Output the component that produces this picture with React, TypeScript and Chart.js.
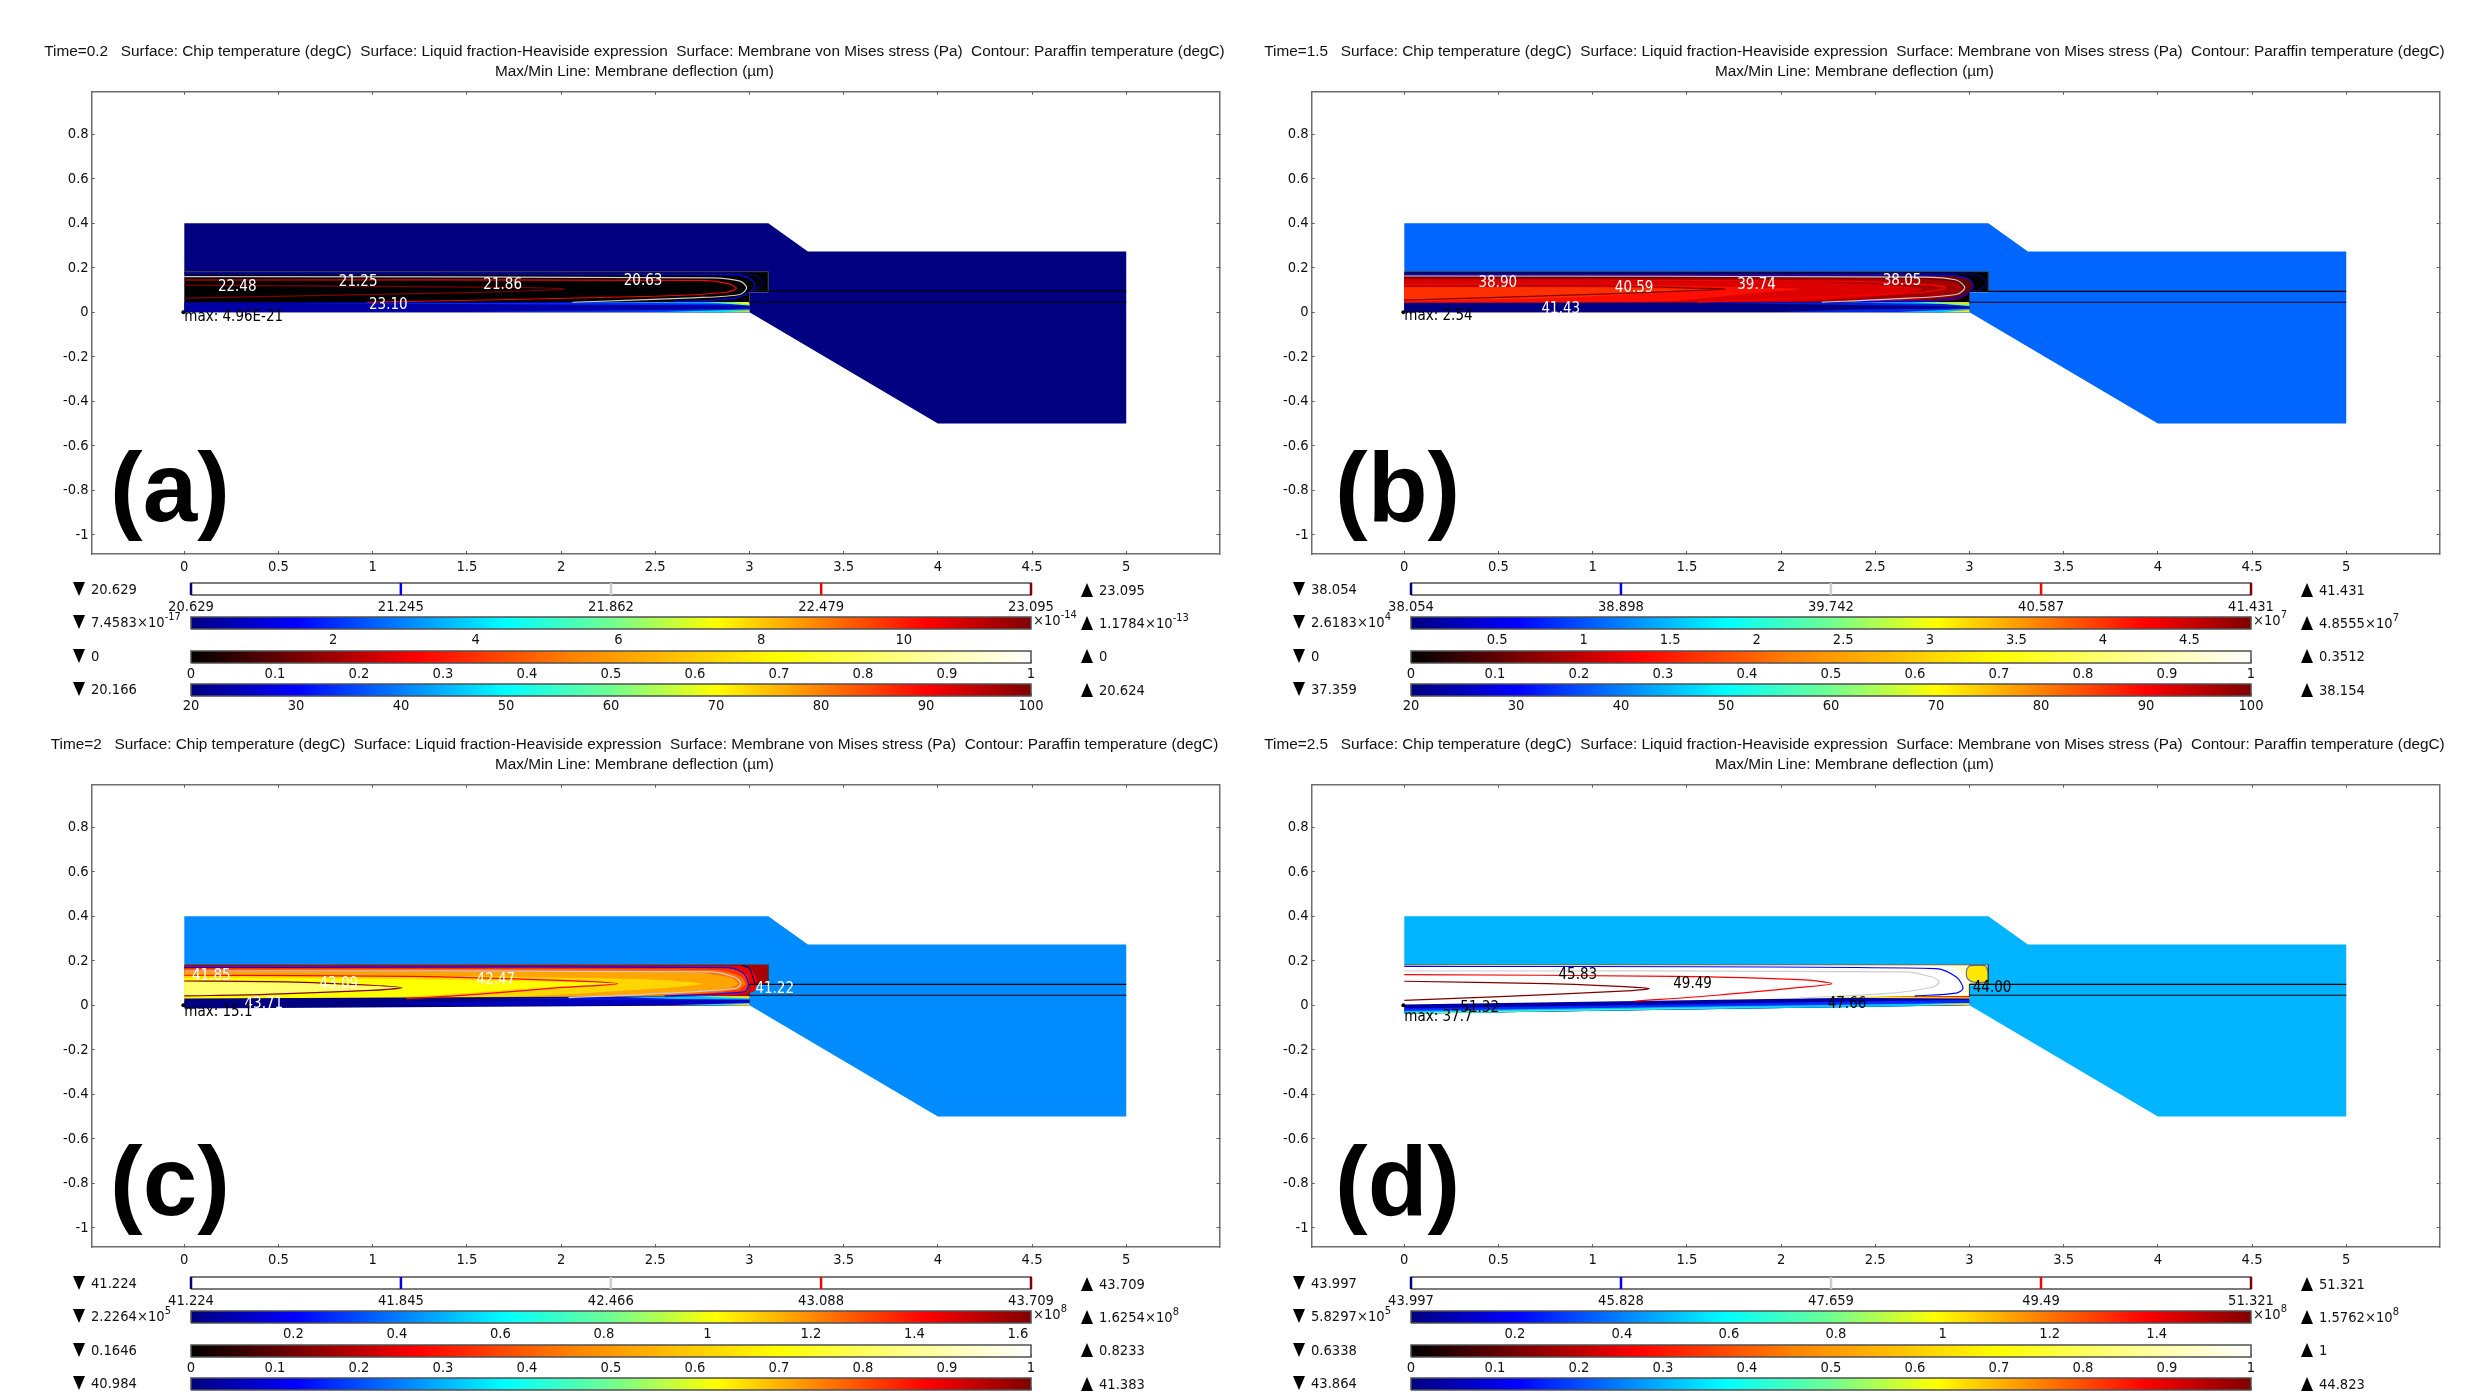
import React, { useEffect, useRef } from "react";
import { Chart, registerables } from "chart.js";

Chart.register(...registerables);

const FONT = '"DejaVu Sans Condensed", "Liberation Sans", sans-serif';
const TITLE_FONT = '"Liberation Sans", sans-serif';
const TICK_SIZE = 14.6;
const TITLE_SIZE = 15.34;

type Pt = [number, number];

// ---------- axis ticks ----------
const xTickValues = [0, 0.5, 1, 1.5, 2, 2.5, 3, 3.5, 4, 4.5, 5];
const yTickValues = [0.8, 0.6, 0.4, 0.2, 0, -0.2, -0.4, -0.6, -0.8, -1];
const liquidTicks = [0, 0.1, 0.2, 0.3, 0.4, 0.5, 0.6, 0.7, 0.8, 0.9, 1];
const chipTicks = [20, 30, 40, 50, 60, 70, 80, 90, 100];

// ---------- geometry ----------
const bodyOutline: Pt[] = [[0, 0.4], [3.1, 0.4], [3.31, 0.273], [5, 0.273], [5, -0.5], [4, -0.5], [3, 0], [3, 0.09], [3.1, 0.09], [3.1, 0.182], [0, 0.182]];
const paraffinOutline: Pt[] = [[0, 0.182], [3.1, 0.182], [3.1, 0.095], [3, 0.095], [3, 0], [0, 0]];
const paraffinEdge: Pt[] = [[0, 0.182], [3.1, 0.182], [3.1, 0.095], [3, 0.095], [3, 0.04]];
const upperLine: Pt[] = [[3, 0.094], [5, 0.094]];
const lowerLine: Pt[] = [[3, 0.045], [5, 0.045]];
const maxPoint: Pt[] = [[-0.005, 0]];

// ---------- contour lines, paraffin temperature ----------
const aNavy: Pt[] = [[0, 0.178], [2.9, 0.176], [3.03, 0.165], [3.07, 0.13], [3.03, 0.1], [3.0, 0.095]];
const aBlue: Pt[] = [[0, 0.172], [2.85, 0.17], [2.98, 0.16], [3.03, 0.125], [3.0, 0.09], [2.9, 0.06], [2.6, 0.048]];
const aGray: Pt[] = [[0, 0.16], [2.8, 0.155], [2.95, 0.14], [2.985, 0.11], [2.95, 0.08], [2.7, 0.065], [2.06, 0.045]];
const aRed: Pt[] = [[0, 0.145], [2.75, 0.143], [2.88, 0.13], [2.93, 0.108], [2.88, 0.09], [2.5, 0.072], [0.97, 0.045]];
const aDark: Pt[] = [[0, 0.122], [1.7, 0.112], [1.95, 0.108], [2.02, 0.105], [1.95, 0.1], [1.5, 0.088], [0, 0.064]];

const bNavy: Pt[] = [[0, 0.176], [2.95, 0.174], [3.05, 0.165], [3.09, 0.13], [3.05, 0.1], [3.0, 0.095]];
const bBlue: Pt[] = [[0, 0.17], [2.85, 0.168], [2.98, 0.155], [3.02, 0.12], [2.98, 0.08], [2.85, 0.055], [2.4, 0.048]];
const bGray: Pt[] = [[0, 0.163], [2.75, 0.158], [2.93, 0.145], [2.975, 0.11], [2.93, 0.08], [2.6, 0.06], [2.216, 0.045]];
const bRed: Pt[] = [[0, 0.145], [2.3, 0.14], [2.75, 0.125], [2.875, 0.11], [2.75, 0.09], [2.2, 0.068], [1.557, 0.045]];
const bDark: Pt[] = [[0, 0.118], [1.1, 0.118], [1.55, 0.108], [1.706, 0.105], [1.55, 0.098], [1, 0.08], [0, 0.055]];

const cNavy: Pt[] = [[2.96, 0.18], [3.0, 0.165], [3.03, 0.097]];
const cBlue: Pt[] = [[0, 0.17], [2.89, 0.169], [2.97, 0.142], [2.995, 0.09], [2.97, 0.06], [2.55, 0.042]];
const cGray: Pt[] = [[0, 0.154], [2.78, 0.15], [2.92, 0.127], [2.955, 0.097], [2.92, 0.075], [2.44, 0.049], [2.04, 0.034]];
const cRed: Pt[] = [[0, 0.135], [1.21, 0.13], [1.99, 0.112], [2.3, 0.097], [1.99, 0.079], [1.55, 0.049], [1.18, 0.03]];
const cDark: Pt[] = [[0, 0.109], [0.54, 0.105], [0.99, 0.09], [1.155, 0.079], [0.99, 0.067], [0.43, 0.049], [0, 0.042]];

const dNavy: Pt[] = [[3.0, 0.178], [3.08, 0.178], [3.098, 0.15], [3.095, 0.11], [3.03, 0.103], [2.99, 0.12], [2.985, 0.16], [3.0, 0.178]];
const dBlue: Pt[] = [[0, 0.175], [2.82, 0.165], [2.93, 0.127], [2.966, 0.075], [2.93, 0.055], [2.71, 0.042]];
const dGray: Pt[] = [[0, 0.154], [2.66, 0.15], [2.8, 0.127], [2.84, 0.105], [2.8, 0.08], [2.55, 0.052], [2.1, 0.033]];
const dRed: Pt[] = [[0, 0.138], [1.43, 0.13], [2.1, 0.115], [2.27, 0.097], [2.1, 0.08], [1.66, 0.045], [1.22, 0.018]];
const dDark: Pt[] = [[0, 0.108], [0.76, 0.097], [1.21, 0.082], [1.3, 0.075], [1.21, 0.066], [0.54, 0.04], [0, 0.022]];

// ---------- liquid-fraction colour regions ----------
const bZones: Pt[][] = [
  [[0, 0.168], [2.85, 0.166], [3.0, 0.15], [3.02, 0.11], [2.95, 0.06], [2.7, 0.045], [0, 0.04]],
  [[0, 0.155], [2.75, 0.15], [2.93, 0.135], [2.96, 0.105], [2.9, 0.07], [2.5, 0.045], [0, 0.04]],
  [[0, 0.14], [2.2, 0.135], [2.6, 0.12], [2.75, 0.105], [2.6, 0.08], [2.1, 0.05], [0, 0.04]],
  [[0, 0.125], [1.2, 0.122], [1.9, 0.11], [2.1, 0.105], [1.9, 0.09], [1.4, 0.05], [0, 0.04]],
  [[0, 0.113], [0.9, 0.112], [1.5, 0.105], [1.7, 0.103], [1.4, 0.09], [0.8, 0.065], [0, 0.05]],
];
const cZones: Pt[][] = [
  [[0, 0.177], [2.95, 0.176], [3.02, 0.15], [3.04, 0.1], [3.02, 0.06], [2.8, 0.04], [0, 0.02]],
  [[0, 0.17], [2.88, 0.168], [2.98, 0.14], [3.0, 0.09], [2.97, 0.058], [2.6, 0.04], [0, 0.02]],
  [[0, 0.162], [2.82, 0.158], [2.95, 0.13], [2.98, 0.097], [2.94, 0.07], [2.5, 0.04], [0, 0.02]],
  [[0, 0.15], [2.7, 0.147], [2.9, 0.125], [2.94, 0.097], [2.88, 0.075], [2.3, 0.04], [0, 0.02]],
  [[0, 0.137], [1.5, 0.13], [2.5, 0.115], [2.75, 0.097], [2.5, 0.075], [1.8, 0.04], [0, 0.02]],
  [[0, 0.122], [0.8, 0.12], [1.8, 0.108], [2.3, 0.097], [1.9, 0.08], [1.2, 0.04], [0, 0.02]],
  [[0, 0.109], [0.54, 0.105], [0.99, 0.09], [1.155, 0.079], [0.99, 0.067], [0.43, 0.049], [0, 0.042]],
];
const dZones: Pt[][] = [
  [[0, 0.177], [2.9, 0.172], [2.98, 0.125], [2.985, 0.09], [2.96, 0.05], [2.7, 0.04], [0, 0]],
  [[3.0, 0.178], [3.08, 0.178], [3.098, 0.15], [3.095, 0.11], [3.03, 0.103], [2.99, 0.12], [2.985, 0.16]],
];

// ---------- membrane stress colour bands ----------
const aMembrane: Pt[][] = [
  [[0, 0.045], [3, 0.045], [3, 0], [0, 0]],
  [[0.5, 0.04], [1.5, 0.042], [3, 0.045], [3, 0.03], [2, 0.035]],
  [[1.5, 0.003], [3, 0], [3, 0.015], [2.3, 0.008]],
  [[2, 0.045], [3, 0.045], [3, 0.038], [2.5, 0.042]],
  [[2.5, 0], [3, 0], [3, 0.012], [2.7, 0.006]],
  [[2.75, 0.045], [3, 0.045], [3, 0.03], [2.85, 0.04]],
  [[2.9, 0.045], [3, 0.045], [3, 0.036]],
  [[2.85, 0], [3, 0], [3, 0.008]],
];
const bMembrane: Pt[][] = [
  [[0, 0.043], [3, 0.045], [3, 0], [0, 0]],
  [[1.5, 0.043], [3, 0.045], [3, 0.025], [2.2, 0.035]],
  [[2, 0.002], [3, 0], [3, 0.018], [2.4, 0.012]],
  [[2.3, 0.045], [3, 0.045], [3, 0.035], [2.6, 0.04]],
  [[2.6, 0], [3, 0], [3, 0.015], [2.8, 0.008]],
  [[2.7, 0.045], [3, 0.045], [3, 0.028], [2.85, 0.038]],
  [[2.8, 0.045], [3, 0.045], [3, 0.038]],
  [[2.85, 0], [3, 0], [3, 0.01]],
];
const cMembrane: Pt[][] = [
  [[0, 0.03], [3, 0.042], [3, 0], [0, -0.015]],
  [[1, 0.01], [3, 0.035], [3, 0.006], [1.5, -0.003]],
  [[1.6, 0.03], [3, 0.042], [3, 0.025], [2.2, 0.025]],
  [[2.3, 0.038], [3, 0.042], [3, 0.026], [2.6, 0.028]],
  [[2.6, 0.001], [3, 0], [3, 0.01], [2.8, 0.006]],
  [[2.7, 0.04], [3, 0.042], [3, 0.03], [2.85, 0.035]],
  [[2.85, 0.042], [3, 0.042], [3, 0.033]],
  [[2.85, 0.001], [3, 0], [3, 0.007]],
];
const dMembrane: Pt[][] = [
  [[0, 0.004], [3, 0.042], [3, 0], [0, -0.038]],
  [[0, -0.015], [3, 0.025], [3, 0], [0, -0.038]],
  [[0, -0.026], [1.5, -0.007], [3, 0.01], [3, 0], [0, -0.038]],
  [[0, -0.032], [1.5, -0.012], [2.2, -0.004], [0, -0.038]],
  [[2.2, 0.034], [3, 0.042], [3, 0.03]],
  [[2.4, 0.038], [3, 0.042], [3, 0.034]],
  [[2.5, 0.04], [3, 0.042], [3, 0.038]],
  [[2.7, 0.005], [3, 0], [3, 0.009]],
];

// ---------- contour annotations: x, y, text ----------
const aLabelX = [0.281, 0.923, 1.69, 2.435, 1.083];
const aLabelY = [0.111, 0.135, 0.123, 0.141, 0.033];
const aLabelText = ["22.48", "21.25", "21.86", "20.63", "23.10"];
const bLabelX = [0.496, 1.22, 1.87, 2.642, 0.831];
const bLabelY = [0.133, 0.108, 0.12, 0.141, 0.015];
const bLabelText = ["38.90", "40.59", "39.74", "38.05", "41.43"];
const cLabelX = [0.143, 0.82, 1.654, 3.134, 0.422];
const cLabelY = [0.132, 0.097, 0.112, 0.072, 0.004];
const cLabelText = ["41.85", "43.09", "42.47", "41.22", "43.71"];
const dLabelX = [0.921, 1.53, 0.4, 2.35, 3.12];
const dLabelY = [0.135, 0.093, -0.012, 0.004, 0.075];
const dLabelText = ["45.83", "49.49", "51.32", "47.66", "44.00"];
const maxLabelText = ["max: 4.96E-21", "max: 2.54", "max: 15.1", "max: 37.7"];
const maxLabelY = [-0.02, -0.017, -0.031, -0.053];

// ---------- titles ----------
const titleRest = "   Surface: Chip temperature (degC)  Surface: Liquid fraction-Heaviside expression  Surface: Membrane von Mises stress (Pa)  Contour: Paraffin temperature (degC)";
const titleTimes = ["Time=0.2", "Time=1.5", "Time=2", "Time=2.5"];
const titleLine2 = "Max/Min Line: Membrane deflection (µm)";
const panelLetters = ["(a)", "(b)", "(c)", "(d)"];

// ---------- colour-bar values ----------
const contourTicks = [
  [20.629, 21.245, 21.862, 22.479, 23.095],
  [38.054, 38.898, 39.742, 40.587, 41.431],
  [41.224, 41.845, 42.466, 43.088, 43.709],
  [43.997, 45.828, 47.659, 49.49, 51.321],
];
const stressRange: Pt[] = [[0.0075, 11.784], [0.0026, 4.8555], [0.0022, 1.6254], [0.0058, 1.5762]];
const stressTicks = [
  [2, 4, 6, 8, 10],
  [0.5, 1, 1.5, 2, 2.5, 3, 3.5, 4, 4.5],
  [0.2, 0.4, 0.6, 0.8, 1, 1.2, 1.4, 1.6],
  [0.2, 0.4, 0.6, 0.8, 1, 1.2, 1.4],
];
const stressExp = ["-14", "7", "8", "8"];
const row1Min = ["20.629", "38.054", "41.224", "43.997"];
const row1Max = ["23.095", "41.431", "43.709", "51.321"];
const row2MinBase = ["7.4583", "2.6183", "2.2264", "5.8297"];
const row2MinExp = ["-17", "4", "5", "5"];
const row2MaxBase = ["1.1784", "4.8555", "1.6254", "1.5762"];
const row2MaxExp = ["-13", "7", "8", "8"];
const row3Min = ["0", "0", "0.1646", "0.6338"];
const row3Max = ["0", "0.3512", "0.8233", "1"];
const row4Min = ["20.166", "37.359", "40.984", "43.864"];
const row4Max = ["20.624", "38.154", "41.383", "44.823"];

// ---------- style tables ----------
const bodyColors = ["rgb(0,0,128)", "rgb(0,102,255)", "rgb(0,140,255)", "rgb(0,180,255)"];
const paraffinColors = ["rgb(0,0,0)", "rgb(0,0,0)", "rgb(170,0,0)", "rgb(255,255,205)"];
const contourColors = ["rgb(0,0,128)", "rgb(0,0,255)", "rgb(205,205,205)", "rgb(255,0,0)", "rgb(128,0,0)"];
const blobStroke = "rgb(110,110,150)";
const zoneColors: string[][] = [
  [],
  ["rgb(105,0,0)", "rgb(165,0,0)", "rgb(220,0,0)", "rgb(255,15,0)", "rgb(255,48,0)"],
  ["rgb(240,0,0)", "rgb(255,50,0)", "rgb(255,110,0)", "rgb(255,165,0)", "rgb(255,215,0)", "rgb(255,255,0)", "rgb(255,255,110)"],
  ["rgb(255,255,255)", "rgb(255,232,0)"],
];
const membraneColors: string[][] = [
  ["rgb(0,0,165)", "rgb(0,40,255)", "rgb(0,60,255)", "rgb(0,220,255)", "rgb(0,230,230)", "rgb(120,255,120)", "rgb(255,255,0)", "rgb(255,210,0)"],
  ["rgb(0,0,128)", "rgb(0,30,220)", "rgb(0,40,240)", "rgb(0,200,255)", "rgb(0,200,255)", "rgb(130,255,120)", "rgb(255,220,0)", "rgb(255,230,0)"],
  ["rgb(0,0,128)", "rgb(0,0,190)", "rgb(0,20,230)", "rgb(0,190,255)", "rgb(0,220,240)", "rgb(120,255,120)", "rgb(255,210,0)", "rgb(255,230,0)"],
  ["rgb(0,0,165)", "rgb(0,40,255)", "rgb(0,200,255)", "rgb(110,255,140)", "rgb(255,240,0)", "rgb(255,120,0)", "rgb(220,0,0)", "rgb(255,220,0)"],
];
const textColors = ["#fff", "#fff", "#fff", "#000"];
const jetStops: [number, string][] = [[0, "#000080"], [0.125, "#0000ff"], [0.375, "#00ffff"], [0.5, "#70ff90"], [0.625, "#ffff00"], [0.875, "#ff0000"], [1, "#800000"]];
const hotStops: [number, string][] = [[0, "#000000"], [0.27, "#ff0000"], [0.45, "#ff8000"], [0.7, "#ffff00"], [0.85, "#ffff88"], [1, "#ffffff"]];

const toXY = (pts: Pt[]) => pts.map(([x, y]) => ({ x, y }));

const shape = (pts: Pt[], color: string, smooth = 0) => ({
  data: toXY(pts),
  showLine: true,
  fill: "shape",
  backgroundColor: color,
  borderWidth: 0,
  borderColor: color,
  pointRadius: 0,
  tension: smooth,
});
const stroke = (pts: Pt[], color: string, width = 1.2, smooth = 0.3) => ({
  data: toXY(pts),
  showLine: true,
  fill: false,
  borderColor: color,
  borderWidth: width,
  pointRadius: 0,
  tension: smooth,
});

const panelData = [
  { contours: [aNavy, aBlue, aGray, aRed, aDark], zones: [] as Pt[][], membrane: aMembrane, lx: aLabelX, ly: aLabelY, lt: aLabelText },
  { contours: [bNavy, bBlue, bGray, bRed, bDark], zones: bZones, membrane: bMembrane, lx: bLabelX, ly: bLabelY, lt: bLabelText },
  { contours: [cNavy, cBlue, cGray, cRed, cDark], zones: cZones, membrane: cMembrane, lx: cLabelX, ly: cLabelY, lt: cLabelText },
  { contours: [dNavy, dBlue, dGray, dRed, dDark], zones: dZones, membrane: dMembrane, lx: dLabelX, ly: dLabelY, lt: dLabelText },
];

function MainPlot({ i, left, top }: { i: number; left: number; top: number }) {
  const ref = useRef<HTMLCanvasElement>(null);
  useEffect(() => {
    const p = panelData[i];
    const ds: any[] = [];
    ds.push(shape(bodyOutline, bodyColors[i]));
    ds.push(shape(paraffinOutline, paraffinColors[i]));
    p.zones.forEach((z, k) => ds.push(shape(z, zoneColors[i][k], 0.25)));
    p.membrane.forEach((m, k) => ds.push(shape(m, membraneColors[i][k])));
    p.contours.forEach((c, k) => ds.push(stroke(c, i === 3 && k === 0 ? blobStroke : contourColors[k])));
    ds.push(stroke(paraffinEdge, "rgb(60,60,60)", 0.8, 0));
    ds.push(stroke(upperLine, "#000", 1.1, 0));
    ds.push(stroke(lowerLine, "#000", 1.1, 0));
    ds.push({ data: toXY(maxPoint), showLine: false, pointRadius: 2, pointBackgroundColor: "#000", pointBorderWidth: 0 });
    ds.forEach((d, k) => (d.order = ds.length - k));

    const labels = {
      id: "contourLabels",
      afterDatasetsDraw(chart: any) {
        const { ctx, scales } = chart;
        ctx.save();
        ctx.font = `${TICK_SIZE + 0.4}px ${FONT}`;
        ctx.textBaseline = "middle";
        ctx.textAlign = "center";
        ctx.fillStyle = textColors[i];
        p.lt.forEach((t, k) => ctx.fillText(t, scales.x.getPixelForValue(p.lx[k]), scales.y.getPixelForValue(p.ly[k])));
        ctx.textAlign = "left";
        ctx.fillStyle = "#000";
        ctx.fillText(maxLabelText[i], scales.x.getPixelForValue(0), scales.y.getPixelForValue(maxLabelY[i]));
        ctx.restore();
      },
    };
    const frame = { color: "rgb(110,110,110)", width: 1.5 };
    const tickGrid = { drawOnChartArea: false, tickLength: -3, color: "rgb(90,90,90)" };
    const hiddenTicks = { display: false };
    const chart = new Chart(ref.current as HTMLCanvasElement, {
      type: "scatter",
      data: { datasets: ds },
      plugins: [labels],
      options: {
        animation: false,
        responsive: false,
        events: [],
        plugins: {
          legend: { display: false },
          tooltip: { enabled: false },
          title: {
            display: true,
            text: [titleTimes[i] + titleRest, titleLine2],
            font: { family: TITLE_FONT, size: TITLE_SIZE, weight: "normal", lineHeight: 20 / TITLE_SIZE },
            color: "#111",
            padding: { top: 41.7, bottom: 10 },
          },
        },
        scales: {
          x: {
            type: "linear", position: "bottom", min: -0.4915, max: 5.495,
            afterBuildTicks: (s: any) => { s.ticks = xTickValues.map((value) => ({ value })); },
            afterFit: (s: any) => { s.height = 40; },
            grid: tickGrid, border: frame,
            ticks: { autoSkip: false, maxRotation: 0, padding: 7, color: "#111", font: { family: FONT, size: TICK_SIZE }, callback: (v: any) => String(v) },
          },
          y: {
            type: "linear", position: "left", min: -1.086, max: 0.991,
            afterBuildTicks: (s: any) => { s.ticks = yTickValues.map((value) => ({ value })); },
            afterFit: (s: any) => { s.width = 91.7; },
            grid: tickGrid, border: frame,
            ticks: { autoSkip: false, padding: 6, color: "#111", font: { family: FONT, size: TICK_SIZE }, callback: (v: any) => String(v) },
          },
          xTop: {
            type: "linear", position: "top", axis: "x", min: -0.4915, max: 5.495,
            afterBuildTicks: (s: any) => { s.ticks = xTickValues.map((value) => ({ value })); },
            afterFit: (s: any) => { s.height = 0; },
            grid: tickGrid, border: frame, ticks: hiddenTicks,
          },
          yRight: {
            type: "linear", position: "right", axis: "y", min: -1.086, max: 0.991,
            afterBuildTicks: (s: any) => { s.ticks = yTickValues.map((value) => ({ value })); },
            afterFit: (s: any) => { s.width = 49.5; },
            grid: tickGrid, border: frame, ticks: hiddenTicks,
          },
        },
      } as any,
    } as any);
    return () => chart.destroy();
  }, [i]);
  return <canvas ref={ref} width={1269} height={594} style={{ position: "absolute", left, top }} />;
}

function ColorBar({ left, top, min, max, ticks, stops, levels, gap, labelGap }: {
  left: number; top: number; min: number; max: number; ticks: number[]; stops?: [number, string][]; levels?: number[]; gap: number; labelGap: number;
}) {
  const ref = useRef<HTMLCanvasElement>(null);
  useEffect(() => {
    const rect: Pt[] = [[min, 0], [min, 1], [max, 1], [max, 0]];
    const fillColor = stops
      ? (c: any) => {
          const a = c.chart.chartArea;
          if (!a) return "#fff";
          const g = c.chart.ctx.createLinearGradient(a.left, 0, a.right, 0);
          stops.forEach(([o, col]) => g.addColorStop(o, col));
          return g;
        }
      : "#fff";
    const ds: any[] = [
      { data: toXY(rect), showLine: true, fill: "shape", backgroundColor: fillColor, borderWidth: 0, pointRadius: 0 },
    ];
    ds.push({ data: toXY([[min, 0], [min, 1], [max, 1], [max, 0], [min, 0]]), showLine: true, fill: false, borderColor: "rgb(80,80,80)", borderWidth: 1.5, pointRadius: 0, clip: false });
    (levels || []).forEach((v, k) => {
      ds.push({ data: [{ x: v, y: 0 }, { x: v, y: 1 }], showLine: true, fill: false, borderColor: contourColors[k], borderWidth: 2.5, pointRadius: 0, clip: false });
    });
    ds.forEach((d, k) => (d.order = ds.length - k));
    const chart = new Chart(ref.current as HTMLCanvasElement, {
      type: "scatter",
      data: { datasets: ds },
      options: {
        animation: false,
        responsive: false,
        events: [],
        layout: { padding: { left: 40, right: 40, top: 2, bottom: 0 } },
        plugins: { legend: { display: false }, tooltip: { enabled: false }, title: { display: false } },
        scales: {
          x: {
            type: "linear", min, max,
            afterBuildTicks: (s: any) => { s.ticks = ticks.map((value) => ({ value })); },
            afterFit: (s: any) => { s.height = 24; },
            grid: { drawOnChartArea: false, tickLength: -3, color: "rgba(0,0,0,0.5)" },
            border: { display: false },
            ticks: { autoSkip: false, maxRotation: 0, padding: labelGap, color: "#111", font: { family: FONT, size: TICK_SIZE }, callback: (v: any) => String(v) },
          },
          y: { type: "linear", min: 0, max: 1, display: false },
        },
      } as any,
    } as any);
    return () => chart.destroy();
  }, []);
  const barH = gap;
  return <canvas ref={ref} width={920} height={barH + 26} style={{ position: "absolute", left: left - 40, top: top - 2 }} />;
}

const labelStyle = (left: number, center: number): React.CSSProperties => ({
  position: "absolute", left, top: center - 12, height: 24, lineHeight: "24px", font: `${TICK_SIZE}px/24px ${FONT}`, color: "#111", whiteSpace: "nowrap",
});

function Tri({ left, center, up }: { left: number; center: number; up?: boolean }) {
  return (
    <div style={{
      position: "absolute", left, top: center - 7, width: 0, height: 0,
      borderLeft: "6.5px solid transparent", borderRight: "6.5px solid transparent",
      ...(up ? { borderBottom: "14px solid #000" } : { borderTop: "14px solid #000" }),
    }} />
  );
}

function Sci({ base, exp, left, center }: { base: string; exp: string; left: number; center: number }) {
  return (
    <div style={labelStyle(left, center)}>
      {base}×10<sup style={{ fontSize: 11, lineHeight: 0, verticalAlign: "7px" }}>{exp}</sup>
    </div>
  );
}

function Legend({ i, dx, dy }: { i: number; dx: number; dy: number }) {
  const barL = 190.5 + dx;
  const rowsMin = [589, 622, 656, 689].map((v) => v + dy);
  const rowsMax = [590, 623, 656, 690].map((v) => v + dy);
  const tl = 73 + dx, tt = 91 + dx, rl = 1081 + dx, rt = 1099 + dx;
  return (
    <>
      <ColorBar left={barL} top={583 + dy} min={contourTicks[i][0]} max={contourTicks[i][4]} ticks={contourTicks[i]} levels={contourTicks[i]} gap={12} labelGap={6} />
      <ColorBar left={barL} top={617 + dy} min={stressRange[i][0]} max={stressRange[i][1]} ticks={stressTicks[i]} stops={jetStops} gap={12} labelGap={5} />
      <ColorBar left={barL} top={651 + dy} min={0} max={1} ticks={liquidTicks} stops={hotStops} gap={12} labelGap={5} />
      <ColorBar left={barL} top={684 + dy} min={20} max={100} ticks={chipTicks} stops={jetStops} gap={12} labelGap={4} />

      {rowsMin.map((c, k) => <Tri key={"d" + k} left={tl} center={c} />)}
      {rowsMax.map((c, k) => <Tri key={"u" + k} left={rl} center={c} up />)}

      <div style={labelStyle(tt, rowsMin[0])}>{row1Min[i]}</div>
      <div style={labelStyle(rt, rowsMax[0])}>{row1Max[i]}</div>
      <Sci base={row2MinBase[i]} exp={row2MinExp[i]} left={tt} center={rowsMin[1]} />
      <Sci base={row2MaxBase[i]} exp={row2MaxExp[i]} left={rt} center={rowsMax[1]} />
      <div style={labelStyle(1033 + dx, 620 + dy)}>×10<sup style={{ fontSize: 11, lineHeight: 0, verticalAlign: "7px" }}>{stressExp[i]}</sup></div>
      <div style={labelStyle(tt, rowsMin[2])}>{row3Min[i]}</div>
      <div style={labelStyle(rt, rowsMax[2])}>{row3Max[i]}</div>
      <div style={labelStyle(tt, rowsMin[3])}>{row4Min[i]}</div>
      <div style={labelStyle(rt, rowsMax[3])}>{row4Max[i]}</div>
    </>
  );
}

const panelDx = [0, 1220, 0, 1220];
const panelDy = [0, 0, 693, 693];
const letterLeft = [110, 1335, 110, 1335];
const letterTop = [430, 430, 1124, 1124];

export default function App() {
  return (
    <div style={{ position: "fixed", left: 0, top: 0, width: 2474, height: 1394, overflow: "hidden", background: "#fff" }}>
      {panelLetters.map((t, i) => <MainPlot key={t} i={i} left={panelDx[i]} top={panelDy[i]} />)}
      {panelLetters.map((t, i) => <Legend key={t} i={i} dx={panelDx[i]} dy={panelDy[i] + (panelDy[i] ? 1 : 0)} />)}
      {panelLetters.map((t, i) => (
        <div key={t} style={{ position: "absolute", left: letterLeft[i], top: letterTop[i], font: "bold 98px/115px 'Liberation Sans', sans-serif", color: "#000" }}>{t}</div>
      ))}
    </div>
  );
}
